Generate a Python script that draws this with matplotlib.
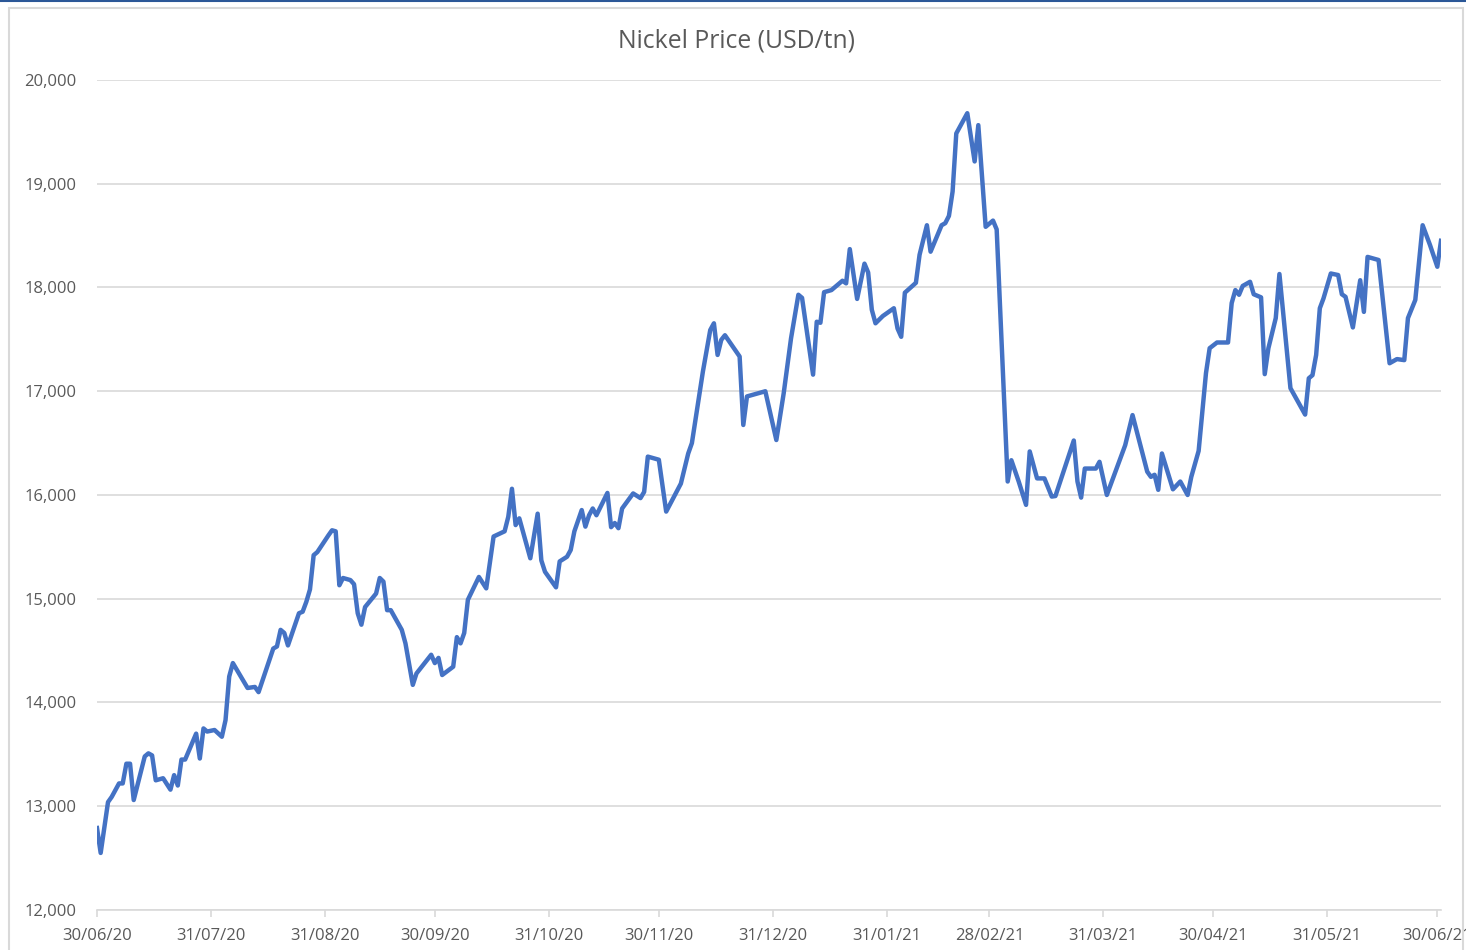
import matplotlib
matplotlib.use("Agg")
import matplotlib.pyplot as plt
import matplotlib.dates as mdates
import matplotlib.patches as mpatches
from matplotlib.lines import Line2D
import pandas as pd

# Nickel price, days counted from 30/06/2020
start_date = "2020-06-30"
day_offsets = [
    0, 1, 3, 4, 6, 7, 8, 9, 10, 13, 14, 15, 16, 18, 20, 21, 22, 23, 24, 27,
    28, 29, 30, 32, 34, 35, 36, 37, 41, 43, 44, 46, 48, 49, 50, 51, 52, 55, 56, 57,
    58, 59, 60, 63, 64, 65, 66, 67, 69, 70, 71, 72, 73, 76, 77, 78, 79, 80, 83, 84,
    86, 87, 91, 92, 93, 94, 97, 98, 99, 100, 101, 104, 106, 108, 111, 112, 113, 114, 115, 118,
    120, 121, 122, 125, 126, 128, 129, 130, 132, 133, 134, 135, 136, 139, 140, 141, 142, 143, 146, 148,
    149, 150, 153, 155, 159, 161, 162, 165, 167, 168, 169, 170, 171, 175, 176, 177, 182, 185, 187, 189,
    191, 192, 195, 196, 197, 198, 200, 203, 204, 205, 207, 209, 210, 211, 212, 214, 217, 218, 219, 220,
    223, 224, 226, 227, 230, 231, 232, 233, 234, 237, 239, 240, 242, 244, 245, 248, 249, 251, 253, 254,
    256, 258, 260, 261, 266, 267, 268, 269, 272, 273, 275, 280, 282, 286, 287, 288, 289, 290, 293, 295,
    297, 298, 300, 302, 303, 305, 308, 309, 310, 311, 312, 314, 315, 317, 318, 319, 321, 322, 325, 329,
    330, 331, 332, 333, 334, 336, 338, 339, 340, 342, 344, 345, 346, 349, 352, 354, 356, 357, 359, 361,
    363, 365, 366,
]
price = [
    12790, 12550, 13040, 13090, 13220, 13220, 13410, 13410, 13060, 13480, 13510, 13490, 13250, 13270, 13160, 13300, 13200, 13450, 13450, 13700,
    13460, 13750, 13720, 13735, 13670, 13830, 14250, 14380, 14140, 14150, 14100, 14310, 14520, 14540, 14700, 14670, 14550, 14860, 14875, 14970,
    15090, 15420, 15450, 15610, 15660, 15650, 15130, 15200, 15180, 15140, 14860, 14750, 14920, 15050, 15200, 15165, 14890, 14890, 14700, 14570,
    14170, 14280, 14460, 14380, 14430, 14265, 14345, 14630, 14570, 14670, 14990, 15210, 15100, 15600, 15650, 15790, 16060, 15710, 15775, 15390,
    15820, 15370, 15260, 15110, 15360, 15405, 15470, 15650, 15855, 15695, 15805, 15870, 15805, 16020, 15690, 15730, 15680, 15870, 16015, 15970,
    16030, 16370, 16340, 15840, 16110, 16400, 16500, 17190, 17590, 17655, 17350, 17495, 17540, 17335, 16675, 16950, 17000, 16530, 16980, 17510,
    17930, 17900, 17160, 17670, 17660, 17955, 17975, 18065, 18040, 18370, 17890, 18230, 18145, 17785, 17655, 17725, 17800, 17605, 17525, 17950,
    18045, 18315, 18600, 18345, 18600, 18620, 18690, 18925, 19485, 19680, 19215, 19565, 18585, 18645, 18560, 16130, 16335, 16130, 15905, 16420,
    16160, 16160, 15985, 15990, 16525, 16130, 15975, 16255, 16255, 16320, 16000, 16480, 16770, 16225, 16175, 16195, 16050, 16400, 16055, 16130,
    16000, 16175, 16425, 17175, 17415, 17470, 17470, 17850, 17975, 17930, 18015, 18055, 17935, 17905, 17165, 17415, 17705, 18130, 17030, 16775,
    17125, 17155, 17350, 17800, 17895, 18135, 18120, 17935, 17910, 17615, 18070, 17765, 18295, 18265, 17270, 17310, 17300, 17705, 17880, 18600,
    18410, 18200, 18450,
]
tick_dates = [
    "2020-06-30", "2020-07-31", "2020-08-31", "2020-09-30", "2020-10-31",
    "2020-11-30", "2020-12-31", "2021-01-31", "2021-02-28", "2021-03-31",
    "2021-04-30", "2021-05-31", "2021-06-30",
]
y_ticks = [12000, 13000, 14000, 15000, 16000, 17000, 18000, 19000, 20000]

plt.rcParams["font.family"] = ["Open Sans", "DejaVu Sans"]
text_color = "#595959"
grid_color = "#d9d9d9"

dates = pd.Timestamp(start_date) + pd.to_timedelta(day_offsets, unit="D")

fig = plt.figure(figsize=(14.66, 9.5), dpi=100)
ax = fig.add_axes([97 / 1466, 1 - 910 / 950, (1441 - 97) / 1466, (910 - 80) / 950])

ax.plot(dates, price, color="#4472C4", linewidth=3.2, solid_joinstyle="round")

ax.set_xlim(pd.Timestamp(start_date), pd.Timestamp(start_date) + pd.Timedelta(days=366))
ax.set_ylim(12000, 20000)
ax.set_yticks(y_ticks)
ax.yaxis.set_major_formatter(matplotlib.ticker.FuncFormatter(lambda v, p: f"{int(v):,}"))
ax.set_xticks(pd.to_datetime(tick_dates))
ax.xaxis.set_major_formatter(mdates.DateFormatter("%d/%m/%y"))

ax.grid(axis="y", color=grid_color, linewidth=1.2)
ax.set_axisbelow(True)
for side in ["top", "right", "left"]:
    ax.spines[side].set_visible(False)
ax.spines["bottom"].set_color(grid_color)
ax.spines["bottom"].set_linewidth(1.2)
ax.tick_params(axis="y", length=0, pad=15, labelsize=12, labelcolor=text_color)
ax.tick_params(axis="x", length=5, width=1.2, color=grid_color, pad=8,
               labelsize=12, labelcolor=text_color)

fig.text(736 / 1466, 1 - 41 / 950, "Nickel Price (USD/tn)", ha="center", va="center",
         fontsize=17.8, color=text_color)

# chart frame and top border
fig.add_artist(mpatches.Rectangle((9 / 1466, -0.1), (1463 - 9) / 1466, 0.1 + (950 - 8) / 950,
                                  transform=fig.transFigure, fill=False,
                                  edgecolor=grid_color, linewidth=1.5))
fig.add_artist(Line2D([0, 1], [1 - 1 / 950, 1 - 1 / 950], transform=fig.transFigure,
                      color="#2b5797", linewidth=1.5))

fig.savefig("out.png", dpi=100)
